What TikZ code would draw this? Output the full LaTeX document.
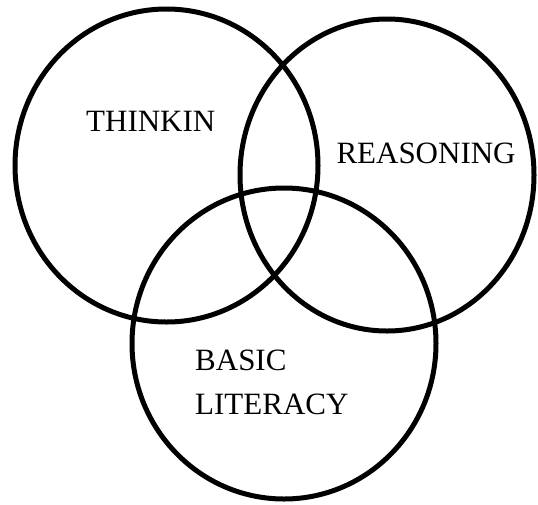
\documentclass[tikz,border=0pt]{standalone}
\usepackage{fontspec}
\setmainfont{Liberation Serif}
\usetikzlibrary{shapes.geometric}

\begin{document}
\begin{tikzpicture}[x=1pt,y=-1pt,
  set/.style={draw,ellipse,line width=5pt,inner sep=0pt,outer sep=0pt},
  lbl/.style={font=\fontsize{31}{43.3}\selectfont,inner sep=0pt,anchor=base west,align=left}]
\useasboundingbox (0,0) rectangle (538,504);
% the three sets
\node[set,minimum width=303pt,minimum height=313pt] (think) at (166.5,165.5) {};
\node[set,minimum width=294pt,minimum height=312pt] (reason) at (387,175) {};
\node[set,minimum width=304pt,minimum height=311pt] (basic) at (284,343.5) {};
% set names (base of a two-line node sits on its last line)
\node[lbl] (thinktxt) at (86,131.7) {THINKIN};
\node[lbl] (reasontxt) at (336.3,163) {REASONING};
\node[lbl] (basictxt) at (195,414) {BASIC\\LITERACY};
\end{tikzpicture}
\end{document}
